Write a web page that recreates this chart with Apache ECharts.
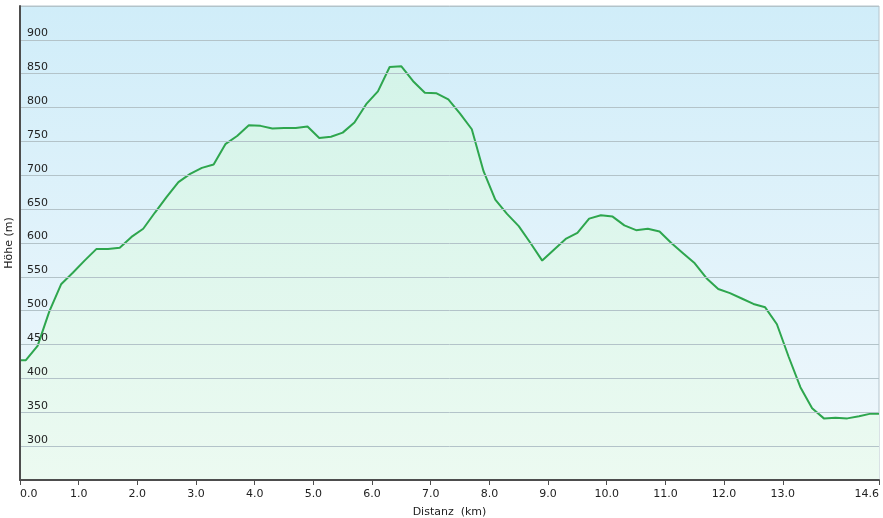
<!DOCTYPE html>
<html>
<head>
<meta charset="utf-8">
<script src="https://cdn.jsdelivr.net/npm/echarts@6/dist/echarts.min.js"></script>
<style>
html,body{margin:0;padding:0;background:#fff;}
#c{width:883px;height:518px;}
</style>
</head>
<body>
<div id="c"></div>
<script>
// distance (km) and elevation (m)
const distKm = [0.00,0.10,0.30,0.50,0.70,0.90,1.10,1.30,1.50,1.70,1.90,2.10,2.30,2.50,2.70,2.90,3.10,3.30,3.50,3.70,3.90,4.10,4.30,4.50,4.70,4.90,5.10,5.30,5.50,5.70,5.90,6.10,6.30,6.50,6.70,6.90,7.10,7.30,7.50,7.70,7.90,8.10,8.30,8.50,8.70,8.90,9.10,9.30,9.50,9.70,9.90,10.10,10.30,10.50,10.70,10.90,11.10,11.30,11.50,11.70,11.90,12.10,12.30,12.50,12.70,12.90,13.10,13.30,13.50,13.70,13.90,14.10,14.30,14.50,14.64];
const elevM = [427,427,448,499,539,556,574,591,591,593,609,621,645,668,690,702,711,716,746,758,774,773,769,770,770,772,755,757,763,778,805,824,860,861,839,822,821,812,791,768,706,664,643,625,600,574,590,606,615,636,641,639,626,619,621,617,600,585,570,548,532,526,518,510,505,480,432,387,356,341,342,341,344,348,348];
const xTickValues = [0,1,2,3,4,5,6,7,8,9,10,11,12,13,14.64];
const yTickLabels = [300,350,400,450,500,550,600,650,700,750,800,850,900];
const xAxisName = 'Distanz  (km)';
const yAxisName = 'Höhe (m)';

const font = 'DejaVu Sans';
const chart = echarts.init(document.getElementById('c'), null, {renderer:'canvas'});
chart.setOption({
  animation:false,
  backgroundColor:'#ffffff',
  grid:{
    left:20, right:4, top:6, bottom:38,
    containLabel:false, outerBoundsMode:'none',
    show:true,
    borderColor:'#b4c4cc', borderWidth:1,
    backgroundColor:{type:'linear',x:0,y:0,x2:0,y2:1,colorStops:[
      {offset:0,color:'#d0edf9'},{offset:1,color:'#f1f8fc'}]}
  },
  xAxis:{
    type:'value', min:0, max:14.64, z:10,
    name:xAxisName, nameLocation:'middle', nameGap:27,
    nameTextStyle:{fontFamily:font,fontSize:11,color:'#222'},
    axisLine:{show:true,lineStyle:{color:'#4d4d4d',width:2}},
    axisTick:{show:true,length:5,lineStyle:{color:'#4d4d4d',width:1},customValues:xTickValues},
    axisLabel:{fontFamily:font,fontSize:11,color:'#222',margin:9,
      customValues:xTickValues,
      alignMinLabel:'left',alignMaxLabel:'right',
      formatter:v=>Number(v).toFixed(1)},
    splitLine:{show:false}
  },
  yAxis:{
    type:'value', min:250, max:950, interval:50, z:10,
    name:yAxisName, nameLocation:'middle', nameGap:5, nameRotate:90,
    nameMoveOverlap:false,
    nameTextStyle:{fontFamily:font,fontSize:11,color:'#222'},
    axisLine:{show:true,lineStyle:{color:'#4d4d4d',width:2}},
    axisTick:{show:false},
    axisLabel:{inside:true,margin:7,fontFamily:font,fontSize:11,color:'#222',
      verticalAlign:'bottom',padding:[0,0,1,0],
      formatter:v=>yTickLabels.indexOf(v)>=0?String(v):''},
    splitLine:{show:true,lineStyle:{color:'#b3c3c9',width:1}}
  },
  series:[{
    type:'line',
    data:distKm.map((d,i)=>[d,elevM[i]]),
    showSymbol:false, symbol:'none',
    lineStyle:{color:'#2ea64e',width:2},
    areaStyle:{color:{type:'linear',x:0,y:0,x2:0,y2:1,colorStops:[
      {offset:0,color:'#d4f4e9'},{offset:1,color:'#ecfaf1'}]},opacity:1},
    z:2
  }]
});
</script>
</body>
</html>
